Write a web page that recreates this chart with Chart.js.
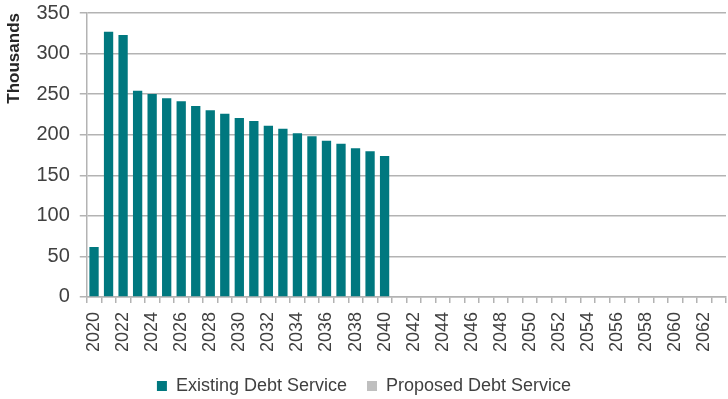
<!DOCTYPE html>
<html>
<head>
<meta charset="utf-8">
<script src="https://cdn.jsdelivr.net/npm/chart.js@4/dist/chart.umd.min.js"></script>
<style>
  html, body { margin: 0; padding: 0; background: #fff; }
  #wrap { width: 728px; height: 399px; }
</style>
</head>
<body>
<div id="wrap"><canvas id="debt-chart"></canvas></div>
<script>
const years = [];
for (let y = 2020; y <= 2063; y++) years.push(String(y));

// thousands
const existing = [61.5, 326.9, 322.8, 254.1, 250.3, 245.0, 241.2, 235.4, 230.1, 225.9,
  220.6, 216.8, 211.0, 207.3, 201.9, 198.2, 192.4, 188.7, 183.3, 179.6, 173.8,
  0, 0, 0, 0, 0, 0, 0, 0, 0, 0, 0, 0, 0, 0, 0, 0, 0, 0, 0, 0, 0, 0, 0];
const proposed = years.map(() => 0);

const textColor = '#404040';
const gridColor = '#b3b3b3';

const debt_ctx = document.getElementById('debt-chart').getContext('2d');
const debtChart = new Chart(debt_ctx, {
  type: 'bar',
  data: {
    labels: years,
    datasets: [{
      label: 'Existing Debt Service',
      data: existing,
      backgroundColor: '#00787f',
      barPercentage: 0.64,
      categoryPercentage: 1
    }, {
      label: 'Proposed Debt Service',
      data: proposed,
      backgroundColor: '#bfbfbf',
      barPercentage: 0.64,
      categoryPercentage: 1
    }]
  },
  options: {
    responsive: true,
    maintainAspectRatio: false,
    animation: false,
    layout: { padding: { top: 13, right: 2, left: 2, bottom: -6 } },
    scales: {
      x: {
        stacked: true,
        grid: { display: true, drawOnChartArea: false, offset: true, color: gridColor, lineWidth: 1.5, tickLength: 6 },
        border: { color: gridColor, width: 1.5 },
        ticks: {
          autoSkip: false,
          maxRotation: 90,
          minRotation: 90,
          color: textColor,
          font: { family: 'Liberation Sans', size: 18 },
          padding: 9,
          callback: function (val, i) { return i % 2 === 0 ? this.getLabelForValue(val) : ''; }
        },
        afterFit: (scale) => {
          scale.height -= 4;
          scale.paddingLeft = 0;
          scale.paddingRight = 0;
        }
      },
      y: {
        stacked: true,
        min: 0,
        max: 350,
        grid: { color: gridColor, lineWidth: 1.5, tickLength: 7 },
        border: { color: gridColor, width: 1.5 },
        ticks: {
          stepSize: 50,
          color: textColor,
          font: { family: 'Liberation Sans', size: 20 },
          padding: 10
        },
        title: {
          display: true,
          text: 'Thousands',
          align: 'end',
          color: '#262626',
          font: { family: 'Liberation Sans', size: 17, weight: 'bold' },
          padding: 2
        },
        afterFit: (scale) => {
          scale.paddingTop = 0;
        }
      }
    },
    plugins: {
      legend: {
        position: 'bottom',
        labels: {
          color: textColor,
          boxWidth: 10,
          boxHeight: 10,
          padding: 20,
          font: { family: 'Liberation Sans', size: 18 }
        }
      },
      tooltip: { enabled: false }
    }
  }
});
</script>
</body>
</html>
